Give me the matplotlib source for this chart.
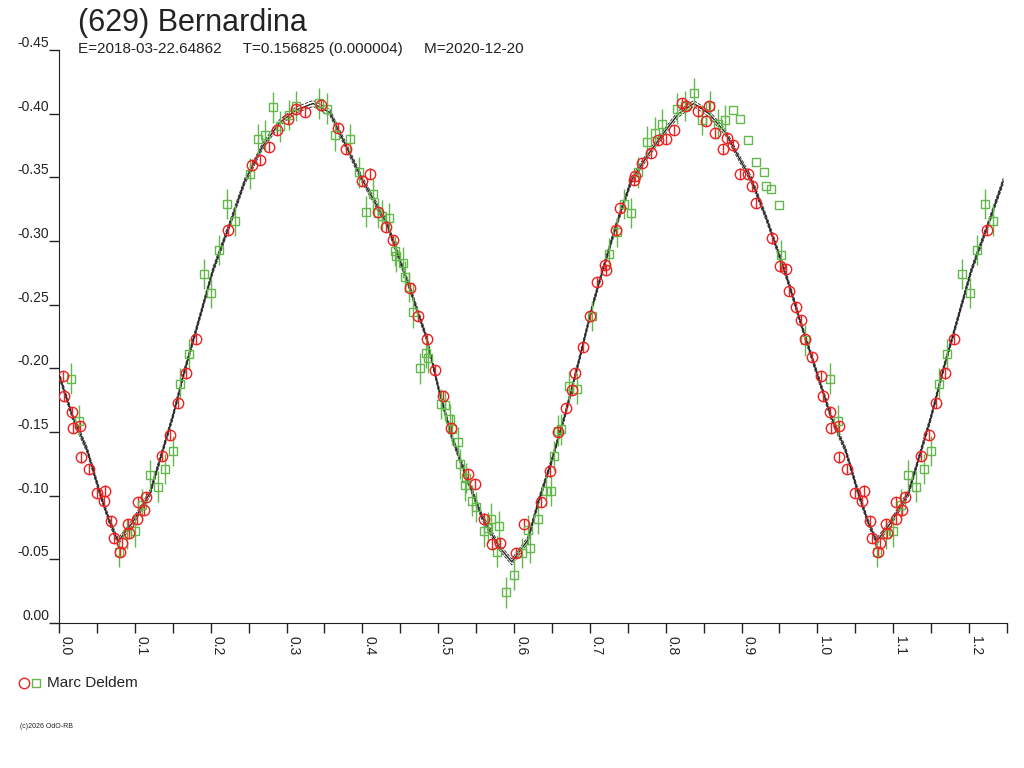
import matplotlib
matplotlib.use("Agg")
import matplotlib.pyplot as plt
import matplotlib.transforms as mtrans
from matplotlib.ticker import MultipleLocator, FormatStrFormatter
import numpy as np

plt.rcParams['font.family'] = ['Liberation Sans', 'DejaVu Sans']

# observations, phase / reduced magnitude
red_phase = [0.005, 0.007, 0.017, 0.018, 0.028, 0.029, 0.039, 0.050, 0.059, 0.061,
             0.069, 0.072, 0.080, 0.083, 0.091, 0.092, 0.103, 0.104, 0.112, 0.115,
             0.136, 0.147, 0.157, 0.168, 0.180, 0.223, 0.255, 0.265, 0.277, 0.287,
             0.302, 0.313, 0.325, 0.346, 0.368, 0.379, 0.400, 0.410, 0.421, 0.431,
             0.441, 0.463, 0.474, 0.485, 0.496, 0.506, 0.517, 0.539, 0.549, 0.561,
             0.571, 0.582, 0.602, 0.613, 0.635, 0.647, 0.658, 0.669, 0.677, 0.680,
             0.691, 0.700, 0.710, 0.720, 0.721, 0.735, 0.740, 0.758, 0.760, 0.769,
             0.780, 0.790, 0.800, 0.811, 0.821, 0.827, 0.843, 0.853, 0.857, 0.865,
             0.875, 0.881, 0.889, 0.898, 0.908, 0.914, 0.919, 0.940, 0.951, 0.959,
             0.962, 0.972, 0.979, 0.983, 0.993]
red_mag = [-0.194, -0.178, -0.166, -0.153, -0.155, -0.130, -0.121, -0.102, -0.096, -0.104,
           -0.080, -0.067, -0.056, -0.063, -0.078, -0.071, -0.082, -0.095, -0.089, -0.099,
           -0.131, -0.148, -0.173, -0.196, -0.223, -0.309, -0.360, -0.364, -0.374, -0.387,
           -0.396, -0.404, -0.401, -0.407, -0.389, -0.372, -0.347, -0.353, -0.323, -0.311,
           -0.301, -0.263, -0.241, -0.223, -0.199, -0.178, -0.153, -0.117, -0.109, -0.082,
           -0.062, -0.063, -0.055, -0.078, -0.095, -0.119, -0.150, -0.169, -0.183, -0.196,
           -0.217, -0.241, -0.268, -0.281, -0.277, -0.309, -0.326, -0.348, -0.351, -0.361,
           -0.369, -0.379, -0.380, -0.387, -0.408, -0.406, -0.402, -0.394, -0.406, -0.385,
           -0.372, -0.381, -0.375, -0.353, -0.353, -0.343, -0.330, -0.302, -0.280, -0.278,
           -0.261, -0.248, -0.238, -0.223, -0.209]
red_err = 0.004

green_phase = [0.016, 0.027, 0.079, 0.090, 0.100, 0.110, 0.120, 0.130, 0.140, 0.150,
               0.160, 0.171, 0.191, 0.201, 0.211, 0.221, 0.232, 0.252, 0.262, 0.272,
               0.282, 0.292, 0.303, 0.313, 0.343, 0.354, 0.364, 0.384, 0.395, 0.405,
               0.414, 0.421, 0.426, 0.435, 0.443, 0.445, 0.453, 0.456, 0.461, 0.467,
               0.476, 0.484, 0.487, 0.504, 0.509, 0.515, 0.518, 0.526, 0.529, 0.535,
               0.536, 0.545, 0.550, 0.561, 0.566, 0.570, 0.577, 0.580, 0.590, 0.600,
               0.611, 0.619, 0.621, 0.631, 0.642, 0.649, 0.653, 0.658, 0.662, 0.672,
               0.683, 0.703, 0.725, 0.736, 0.745, 0.754, 0.764, 0.775, 0.786, 0.795,
               0.815, 0.826, 0.837, 0.848, 0.859, 0.869, 0.878, 0.952, 0.984]
green_mag = [-0.192, -0.159, -0.056, -0.070, -0.072, -0.093, -0.116, -0.107, -0.121, -0.135,
             -0.188, -0.211, -0.274, -0.259, -0.293, -0.329, -0.316, -0.353, -0.380, -0.383,
             -0.405, -0.390, -0.399, -0.406, -0.408, -0.404, -0.383, -0.380, -0.354, -0.323,
             -0.337, -0.322, -0.320, -0.318, -0.292, -0.288, -0.283, -0.272, -0.264, -0.244,
             -0.200, -0.212, -0.208, -0.172, -0.171, -0.160, -0.152, -0.142, -0.125, -0.108,
             -0.114, -0.096, -0.091, -0.072, -0.075, -0.082, -0.056, -0.076, -0.024, -0.038,
             -0.055, -0.073, -0.059, -0.082, -0.104, -0.104, -0.131, -0.151, -0.152, -0.186,
             -0.184, -0.241, -0.290, -0.307, -0.329, -0.322, -0.354, -0.378, -0.385, -0.392,
             -0.404, -0.406, -0.416, -0.395, -0.406, -0.392, -0.395, -0.289, -0.222]
green_err = 0.012

# points without error bars
green_x_phase = [0.889, 0.898, 0.909, 0.919, 0.929, 0.932, 0.939, 0.950]
green_x_mag = [-0.403, -0.396, -0.379, -0.362, -0.354, -0.343, -0.341, -0.328]

# fitted lightcurve
model_phase = [0.000, 0.018, 0.037, 0.054, 0.067, 0.078, 0.097, 0.120, 0.133, 0.150,
               0.166, 0.186, 0.203, 0.225, 0.245, 0.268, 0.291, 0.313, 0.335, 0.357,
               0.379, 0.400, 0.432, 0.462, 0.484, 0.501, 0.518, 0.537, 0.558, 0.580,
               0.597, 0.618, 0.633, 0.650, 0.668, 0.686, 0.703, 0.712, 0.734, 0.755,
               0.778, 0.800, 0.817, 0.837, 0.857, 0.879, 0.896, 0.913, 0.932, 0.949,
               0.962, 0.980, 1.000]
model_mag = [-0.195, -0.162, -0.136, -0.102, -0.079, -0.064, -0.079, -0.102, -0.128, -0.162,
             -0.199, -0.241, -0.277, -0.313, -0.347, -0.374, -0.393, -0.403, -0.408, -0.401,
             -0.374, -0.348, -0.314, -0.264, -0.225, -0.183, -0.146, -0.115, -0.083, -0.060,
             -0.048, -0.065, -0.097, -0.128, -0.165, -0.207, -0.248, -0.267, -0.311, -0.348,
             -0.369, -0.387, -0.400, -0.408, -0.400, -0.385, -0.366, -0.348, -0.319, -0.290,
             -0.267, -0.232, -0.195]

title = "(629) Bernardina"
subtitle = "E=2018-03-22.64862     T=0.156825 (0.000004)     M=2020-12-20"
observer = "Marc Deldem"

RED = "#f02020"
GREEN = "#62b84a"
INK = "#222222"
WRAP = 0.25


def wrapped(ph, mg):
    ph = np.asarray(ph)
    mg = np.asarray(mg)
    sel = ph <= WRAP
    return np.concatenate([ph, ph[sel] + 1.0]), np.concatenate([mg, mg[sel]])


fig = plt.figure(figsize=(10.24, 7.68), dpi=100)
ax = fig.add_axes([59 / 1024, 1 - 623 / 768, (1007 - 59) / 1024, (623 - 50) / 768])

mp, mm = wrapped(model_phase, model_mag)
mm = mm[np.argsort(mp)]
mp = np.sort(mp)
ax.plot(mp, mm, color=INK, lw=1.0, zorder=2)
for dy in (-3, 3):
    tr = mtrans.offset_copy(ax.transData, fig=fig, x=0, y=dy, units='dots')
    ax.plot(mp, mm, color=INK, lw=0.6, ls=(0, (4, 1.5)), transform=tr, zorder=2)

gp, gm = wrapped(green_phase, green_mag)
ax.errorbar(gp, gm, yerr=green_err, fmt='none', ecolor=GREEN, elinewidth=1, capsize=0, zorder=3)
ax.plot(gp, gm, 's', ms=5.5, mfc='none', mec=GREEN, mew=1, zorder=4)
ax.plot(green_x_phase, green_x_mag, 's', ms=5.5, mfc='none', mec=GREEN, mew=1, zorder=4)

rp, rm = wrapped(red_phase, red_mag)
ax.errorbar(rp, rm, yerr=red_err, fmt='none', ecolor=RED, elinewidth=1, capsize=0, zorder=3)
ax.plot(rp, rm, 'o', ms=7.5, mfc='none', mec=RED, mew=1, zorder=5)

ax.set_xlim(0, 1.25)
ax.set_ylim(0, -0.45)
for s in ("top", "right"):
    ax.spines[s].set_visible(False)
ax.spines["left"].set_color(INK)
ax.spines["bottom"].set_color(INK)

ax.xaxis.set_major_locator(MultipleLocator(0.1))
ax.xaxis.set_minor_locator(MultipleLocator(0.05))
ax.xaxis.set_major_formatter(FormatStrFormatter('%.1f'))
ax.yaxis.set_major_locator(MultipleLocator(0.05))
ax.yaxis.set_major_formatter(FormatStrFormatter('%.2f'))
ax.tick_params(axis='x', which='both', direction='out', length=7, width=1,
               color=INK, labelsize=10, pad=2, labelcolor=INK)
ax.tick_params(axis='y', direction='out', length=7, width=1, color=INK,
               labelsize=10, pad=0, labelcolor=INK)
for lbl in ax.get_xticklabels():
    lbl.set_rotation(-90)
    lbl.set_ha('left')
    lbl.set_va('top')
for lbl in ax.get_yticklabels():
    lbl.set_va('bottom')

fig.text(78 / 1024, 1 - 31 / 768, title, fontsize=22, color=INK, va='baseline')
fig.text(78 / 1024, 1 - 53 / 768, subtitle, fontsize=11, color=INK, va='baseline')

fig.lines.append(plt.Line2D([24 / 1024], [1 - 683 / 768], marker='o', ms=7.5, mfc='none',
                            mec=RED, mew=1, transform=fig.transFigure))
fig.lines.append(plt.Line2D([36 / 1024], [1 - 683 / 768], marker='s', ms=5.5, mfc='none',
                            mec=GREEN, mew=1, transform=fig.transFigure))
fig.text(47 / 1024, 1 - 683 / 768, observer, fontsize=11, color=INK, va='center')
fig.text(20 / 1024, 1 - 726 / 768, "(c)2026 OdO-RB", fontsize=5, color=INK, va='center')

fig.savefig("out.png", dpi=100)
